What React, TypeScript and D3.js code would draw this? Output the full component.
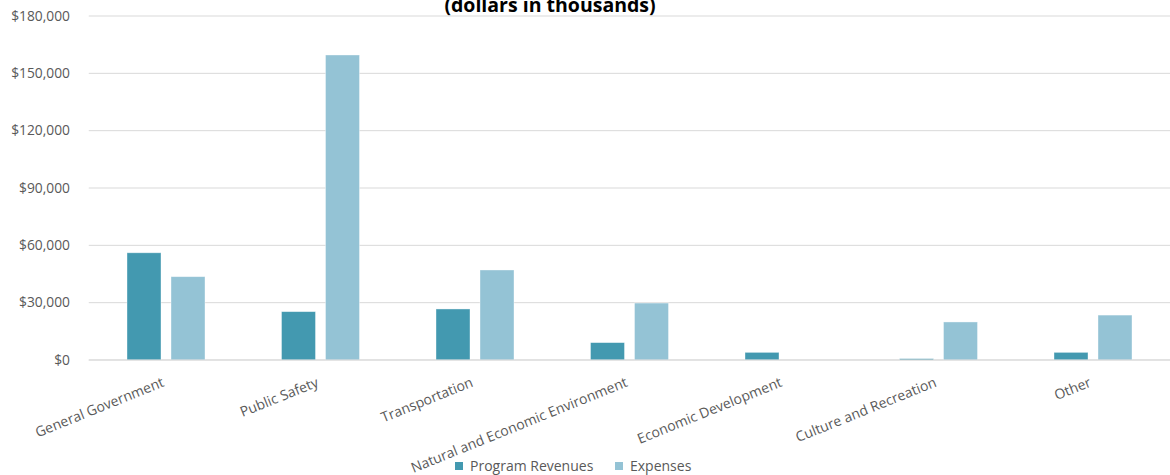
import React from "react";
import * as d3 from "d3";

const categories = [
  "General Government",
  "Public Safety",
  "Transportation",
  "Natural and Economic Environment",
  "Economic Development",
  "Culture and Recreation",
  "Other",
];
const programRevenues = [56100, 25300, 26700, 9100, 4000, 700, 4000];
const expenses = [43600, 159600, 47100, 29800, 0, 19900, 23500];
const yTicks = [0, 30000, 60000, 90000, 120000, 150000, 180000];
const seriesNames = ["Program Revenues", "Expenses"];
const colors = ["#4399B0", "#94C3D5"];

const W = 1170;
const H = 475;
const left = 88.75;
const right = 1170.25;
const top = 16;
const bottom = 360;
const font = "'Open Sans', sans-serif";

export default function App() {
  const x = d3.scaleBand<string>().domain(categories).range([left, right]).padding(0);
  const y = d3.scaleLinear().domain([0, 180000]).range([bottom, top]);
  const bw = 34;
  const gap = 10;
  const fmt = (v: number) => "$" + d3.format(",")(v);
  const series = [programRevenues, expenses];

  return (
    <svg
      width={W}
      height={H}
      style={{ position: "absolute", left: 0, top: 0, background: "#fff" }}
      fontFamily={font}
    >
      <text
        x={550}
        y={12}
        textAnchor="middle"
        fontWeight="bold"
        fontSize={19.5}
        fill="#000"
      >
        (dollars in thousands)
      </text>
      {yTicks.map((t) => (
        <g key={t}>
          <line x1={left} x2={W} y1={y(t)} y2={y(t)} stroke="#D9D9D9" strokeWidth={1} />
          <text
            x={70}
            y={y(t)}
            dy="0.35em"
            textAnchor="end"
            fontSize={13.8}
            fill="#595959"
          >
            {fmt(t)}
          </text>
        </g>
      ))}
      {categories.map((c, i) => {
        const cx = (x(c) as number) + x.bandwidth() / 2;
        return (
          <g key={c}>
            {series.map((s, j) => {
              const v = s[i];
              if (v <= 0) return null;
              const bx = j === 0 ? cx - gap / 2 - bw : cx + gap / 2;
              return (
                <rect
                  key={j}
                  x={bx}
                  y={y(v)}
                  width={bw}
                  height={y(0) - y(v)}
                  fill={colors[j]}
                  stroke="#fff"
                  strokeOpacity={0.5}
                  strokeWidth={0.75}
                />
              );
            })}
            <text
              transform={`translate(${cx - 1},${386}) rotate(-22)`}
              textAnchor="end"
              fontSize={14}
              fill="#595959"
            >
              {c}
            </text>
          </g>
        );
      })}
      <line x1={left} x2={W} y1={y(0)} y2={y(0)} stroke="#D9D9D9" strokeWidth={1} />
      {seriesNames.map((n, j) => {
        const lx = j === 0 ? 455 : 615;
        return (
          <g key={n}>
            <rect x={lx} y={462} width={8} height={8} fill={colors[j]} />
            <text x={lx + 15} y={466} dy="0.35em" fontSize={14} fill="#595959">
              {n}
            </text>
          </g>
        );
      })}
    </svg>
  );
}
